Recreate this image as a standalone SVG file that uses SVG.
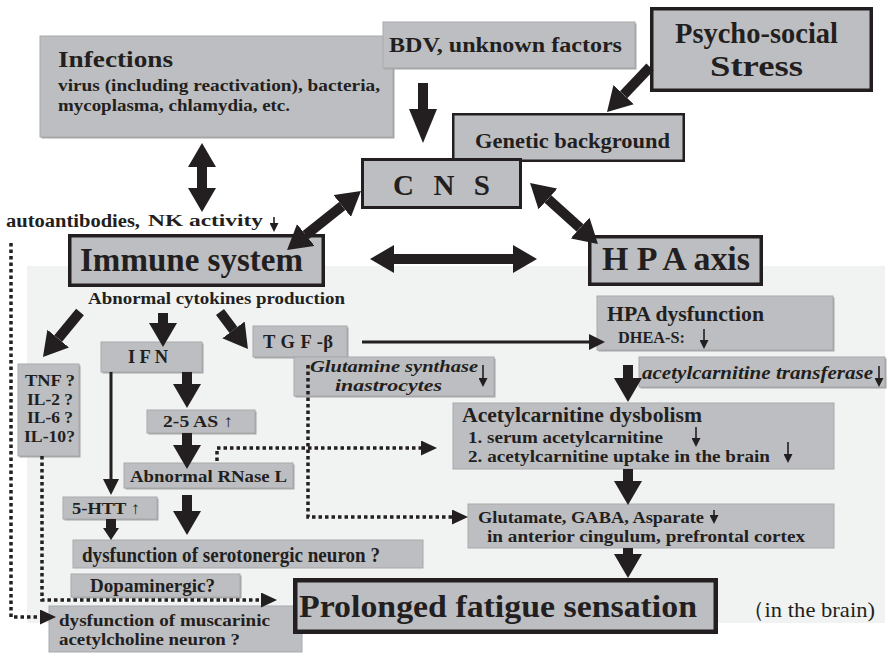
<svg xmlns="http://www.w3.org/2000/svg" width="887" height="653" viewBox="0 0 887 653">
<style>
.t{font-family:"Liberation Serif","DejaVu Serif",serif;font-weight:bold;fill:#231f20}
.i{font-style:italic}
.n{font-weight:normal}
.box{fill:#bdbec1;stroke:#a8a9ab;stroke-width:1}
.sh{fill:#a4a5a7}
.tb{fill:#bdbec1;stroke:#231f20}
.big{stroke:#231f20;stroke-width:10;fill:none}
.thin{stroke:#231f20;stroke-width:3;fill:none}
.dot{stroke:#231f20;stroke-width:3.5;stroke-dasharray:3.5 3;fill:none}
.sm{stroke:#231f20;stroke-width:1.6;fill:none}
</style>
<defs>
<marker id="mb" markerUnits="userSpaceOnUse" markerWidth="24" markerHeight="28" refX="0" refY="14" orient="auto-start-reverse"><path d="M0,0 L24,14 L0,28 Z" fill="#231f20"/></marker>
<marker id="ml" markerUnits="userSpaceOnUse" markerWidth="34" markerHeight="28" refX="0" refY="14" orient="auto-start-reverse"><path d="M0,0 L34,14 L0,28 Z" fill="#231f20"/></marker>
<marker id="mm" markerUnits="userSpaceOnUse" markerWidth="16" markerHeight="16" refX="0" refY="8" orient="auto-start-reverse"><path d="M0,0 L16,8 L0,16 Z" fill="#231f20"/></marker>
<marker id="ms" markerUnits="userSpaceOnUse" markerWidth="12" markerHeight="16" refX="0" refY="8" orient="auto-start-reverse"><path d="M0,0 L12,8 L0,16 Z" fill="#231f20"/></marker>
<marker id="md" markerUnits="userSpaceOnUse" markerWidth="16" markerHeight="15" refX="0" refY="7.5" orient="auto-start-reverse"><path d="M0,0 L16,7.5 L0,15 Z" fill="#231f20"/></marker>
<marker id="mt" markerUnits="userSpaceOnUse" markerWidth="9" markerHeight="9" refX="0" refY="4.5" orient="auto"><path d="M0,0 L9,4.5 L0,9 Z" fill="#231f20"/></marker>
</defs>
<rect width="887" height="653" fill="#ffffff"/>
<rect id="panel" x="27" y="266" width="858" height="357" fill="#f1f3f2"/>

<g id="infections">
<rect class="sh" x="41.5" y="37.5" width="353" height="101"/>
<rect class="box" x="40" y="36" width="353" height="101"/>
<text class="t" x="58" y="67" font-size="24" textLength="115" lengthAdjust="spacingAndGlyphs">Infections</text>
<text class="t" x="58" y="91" font-size="16.5" textLength="322" lengthAdjust="spacingAndGlyphs">virus (including reactivation), bacteria,</text>
<text class="t" x="58" y="111" font-size="16.5" textLength="232" lengthAdjust="spacingAndGlyphs">mycoplasma, chlamydia, etc.</text>
</g>
<g id="bdv">
<rect class="sh" x="384.5" y="23.5" width="252" height="46"/>
<rect class="box" x="383" y="22" width="252" height="46"/>
<text class="t" x="389" y="52" font-size="20" textLength="233" lengthAdjust="spacingAndGlyphs">BDV, unknown factors</text>
</g>
<g id="stress">
<rect class="tb" x="651.75" y="8.75" width="219.5" height="81.5" stroke-width="3.5"/>
<text class="t" x="675" y="43" font-size="29" textLength="163" lengthAdjust="spacingAndGlyphs">Psycho-social</text>
<text class="t" x="710" y="76" font-size="29" textLength="93" lengthAdjust="spacingAndGlyphs">Stress</text>
</g>
<g id="genetic">
<rect class="tb" x="453.25" y="114.25" width="230.5" height="46.5" stroke-width="2.5"/>
<text class="t" x="475" y="148" font-size="21" textLength="195" lengthAdjust="spacingAndGlyphs">Genetic background</text>
</g>
<g id="cns">
<rect class="tb" x="362.5" y="159.5" width="158" height="48" stroke-width="3"/>
<text class="t" x="393" y="195" font-size="29" textLength="97" lengthAdjust="spacing">C N S</text>
</g>
<g id="autoantibodies">
<text class="t" x="6" y="227" font-size="18.5" textLength="134" lengthAdjust="spacingAndGlyphs">autoantibodies,</text>
<text class="t" x="148" y="226" font-size="17.5" textLength="115" lengthAdjust="spacingAndGlyphs">NK activity</text>
<line class="sm" x1="274" y1="217" x2="274" y2="223" marker-end="url(#mt)"/>
</g>
<g id="immune">
<rect class="tb" x="69.75" y="235.75" width="253.5" height="49.5" stroke-width="3.5"/>
<text class="t" x="80" y="271" font-size="33" textLength="223" lengthAdjust="spacingAndGlyphs">Immune system</text>
</g>
<g id="hpa">
<rect class="tb" x="589.75" y="236.75" width="171.5" height="47.5" stroke-width="3.5"/>
<text class="t" x="602" y="270" font-size="33" textLength="148" lengthAdjust="spacingAndGlyphs">H P A axis</text>
</g>
<g id="cytokines">
<text class="t" x="88" y="304" font-size="16.5" textLength="257" lengthAdjust="spacingAndGlyphs">Abnormal cytokines production</text>
</g>
<g id="hpa-dysfunction">
<rect class="sh" x="598.5" y="297.5" width="236" height="54"/>
<rect class="box" x="597" y="296" width="236" height="54"/>
<text class="t" x="607" y="321" font-size="22" textLength="157" lengthAdjust="spacingAndGlyphs">HPA dysfunction</text>
<text class="t" x="618" y="343" font-size="17.5" textLength="67" lengthAdjust="spacingAndGlyphs">DHEA-S:</text>
<line class="sm" x1="704" y1="329" x2="704" y2="340" marker-end="url(#mt)"/>
</g>
<g id="tnf">
<rect class="sh" x="19.5" y="365.5" width="61" height="92"/>
<rect class="box" x="18" y="364" width="61" height="92"/>
<text class="t" x="25" y="386" font-size="16.5" textLength="50" lengthAdjust="spacingAndGlyphs">TNF ?</text>
<text class="t" x="27" y="405" font-size="16.5" textLength="46" lengthAdjust="spacingAndGlyphs">IL-2 ?</text>
<text class="t" x="27" y="423" font-size="16.5" textLength="46" lengthAdjust="spacingAndGlyphs">IL-6 ?</text>
<text class="t" x="24" y="442" font-size="16.5" textLength="51" lengthAdjust="spacingAndGlyphs">IL-10?</text>
</g>
<g id="ifn">
<rect class="sh" x="102.5" y="343.5" width="101" height="30"/>
<rect class="box" x="101" y="342" width="101" height="30"/>
<text class="t" x="128" y="363" font-size="18.5" textLength="40" lengthAdjust="spacing">I F N</text>
</g>
<g id="tgf">
<rect class="sh" x="254.5" y="327.5" width="94" height="31"/>
<rect class="box" x="253" y="326" width="94" height="31"/>
<text class="t" x="263" y="348" font-size="18.5" textLength="70" lengthAdjust="spacing">T G F -β</text>
</g>
<g id="glutamine">
<rect class="sh" x="295.5" y="358.5" width="200" height="39"/>
<rect class="box" x="294" y="357" width="200" height="39"/>
<text class="t i" x="310" y="372" font-size="17.5" textLength="168" lengthAdjust="spacingAndGlyphs">Glutamine synthase</text>
<text class="t i" x="335" y="391" font-size="17.5" textLength="107" lengthAdjust="spacingAndGlyphs">inastrocytes</text>
<line class="sm" x1="483" y1="365" x2="483" y2="378" marker-end="url(#mt)"/>
</g>
<g id="transferase">
<rect class="sh" x="640.5" y="358.5" width="246" height="30"/>
<rect class="box" x="639" y="357" width="246" height="30"/>
<text class="t i" x="642" y="379" font-size="18.5" textLength="231" lengthAdjust="spacingAndGlyphs">acetylcarnitine transferase</text>
<line class="sm" x1="879" y1="366" x2="879" y2="378" marker-end="url(#mt)"/>
</g>
<g id="as25">
<rect class="sh" x="148.5" y="411.5" width="108" height="23"/>
<rect class="box" x="147" y="410" width="108" height="23"/>
<text class="t" x="163" y="427" font-size="17" textLength="70" lengthAdjust="spacingAndGlyphs">2-5 AS <tspan class="n">↑</tspan></text>
</g>
<g id="acetylcarnitine">
<rect class="box" x="453" y="403" width="381" height="66"/>
<text class="t" x="462" y="422" font-size="22" textLength="240" lengthAdjust="spacingAndGlyphs">Acetylcarnitine dysbolism</text>
<text class="t" x="468" y="443" font-size="16.5" textLength="195" lengthAdjust="spacingAndGlyphs">1. serum acetylcarnitine</text>
<text class="t" x="468" y="462" font-size="16.5" textLength="302" lengthAdjust="spacingAndGlyphs">2. acetylcarnitine uptake in the brain</text>
<line class="sm" x1="696" y1="427" x2="696" y2="438" marker-end="url(#mt)"/>
<line class="sm" x1="788" y1="442" x2="788" y2="454" marker-end="url(#mt)"/>
</g>
<g id="rnase">
<rect class="sh" x="125.5" y="464.5" width="169" height="25"/>
<rect class="box" x="124" y="463" width="169" height="25"/>
<text class="t" x="130" y="482" font-size="17.5" textLength="157" lengthAdjust="spacingAndGlyphs">Abnormal RNase L</text>
</g>
<g id="htt">
<rect class="sh" x="64.5" y="498.5" width="94" height="22"/>
<rect class="box" x="63" y="497" width="94" height="22"/>
<text class="t" x="72" y="514" font-size="17" textLength="68" lengthAdjust="spacingAndGlyphs">5-HTT <tspan class="n">↑</tspan></text>
</g>
<g id="glutamate">
<rect class="box" x="468" y="504" width="366" height="44"/>
<text class="t" x="478" y="523" font-size="16.5" textLength="226" lengthAdjust="spacingAndGlyphs">Glutamate, GABA, Asparate</text>
<text class="t" x="487" y="542" font-size="16.5" textLength="318" lengthAdjust="spacingAndGlyphs">in anterior cingulum, prefrontal cortex</text>
<line class="sm" x1="714" y1="510" x2="714" y2="515" marker-end="url(#mt)"/>
</g>
<g id="serotonergic">
<rect class="box" x="73" y="540" width="350" height="28"/>
<text class="t" x="82" y="562" font-size="20" textLength="298" lengthAdjust="spacingAndGlyphs">dysfunction of serotonergic neuron ?</text>
</g>
<g id="dopaminergic">
<rect class="sh" x="72.5" y="575.5" width="169" height="23"/>
<rect class="box" x="71" y="574" width="169" height="23"/>
<text class="t" x="90" y="592" font-size="19" textLength="125" lengthAdjust="spacingAndGlyphs">Dopaminergic?</text>
</g>
<g id="muscarinic">
<rect class="box" x="49" y="606" width="253" height="46"/>
<text class="t" x="59" y="626" font-size="17" textLength="211" lengthAdjust="spacingAndGlyphs">dysfunction of muscarinic</text>
<text class="t" x="59" y="645" font-size="17" textLength="181" lengthAdjust="spacingAndGlyphs">acetylcholine neuron ?</text>
</g>
<g id="prolonged">
<rect class="tb" x="295.25" y="580.25" width="420.5" height="51.5" stroke-width="4.5"/>
<text class="t" x="299" y="617" font-size="31" textLength="398" lengthAdjust="spacingAndGlyphs">Prolonged fatigue sensation</text>
</g>
<g id="brain-note">
<text class="t n" x="742" y="617" font-size="22" textLength="133" lengthAdjust="spacingAndGlyphs">（in the brain)</text>
</g>

<g id="connectors">
<line class="big" x1="423" y1="83" x2="423" y2="109" marker-end="url(#ml)"/>
<line class="big" x1="650" y1="67" x2="623.6" y2="94.7" marker-end="url(#mb)"/>
<line class="big" x1="202" y1="167" x2="202" y2="188" stroke-width="11" marker-start="url(#mb)" marker-end="url(#mb)"/>
<line class="big" x1="305.8" y1="235" x2="342.2" y2="206" marker-start="url(#mb)" marker-end="url(#mb)"/>
<line class="big" x1="547.9" y1="199" x2="580.1" y2="228" marker-start="url(#mb)" marker-end="url(#mb)"/>
<line class="big" x1="394" y1="259" x2="513" y2="259" stroke-width="9" marker-start="url(#mb)" marker-end="url(#mb)"/>
<line class="big" x1="80" y1="312" x2="58.2" y2="338.5" marker-end="url(#mb)"/>
<line class="big" x1="163" y1="313" x2="163" y2="323" marker-end="url(#mb)"/>
<line class="big" x1="220" y1="312" x2="233.5" y2="329.9" marker-end="url(#mb)"/>
<line class="thin" x1="111" y1="372" x2="111" y2="479" marker-end="url(#mm)"/>
<line class="big" x1="187" y1="372" x2="187" y2="384" marker-end="url(#mb)"/>
<line class="big" x1="187" y1="433" x2="187" y2="445" marker-end="url(#mb)"/>
<line class="big" x1="187" y1="495" x2="187" y2="511" marker-end="url(#mb)"/>
<line class="big" x1="111" y1="519" x2="111" y2="528" stroke-width="5" marker-end="url(#ms)"/>
<line class="thin" x1="362" y1="342" x2="589" y2="342" marker-end="url(#mm)"/>
<line class="big" x1="628" y1="365" x2="628" y2="378" marker-end="url(#mb)"/>
<line class="big" x1="628" y1="469" x2="628" y2="481" marker-end="url(#mb)"/>
<line class="big" x1="628" y1="548" x2="628" y2="554" marker-end="url(#mb)"/>
<path class="dot" d="M217,461 V448 H421" marker-end="url(#md)"/>
<path class="dot" d="M308,365 V517 H452" marker-end="url(#md)"/>
<path class="dot" d="M42,456 V600 H261" marker-end="url(#md)"/>
<path class="dot" d="M11,243 V617 H40" marker-end="url(#md)"/>
</g>
</svg>
